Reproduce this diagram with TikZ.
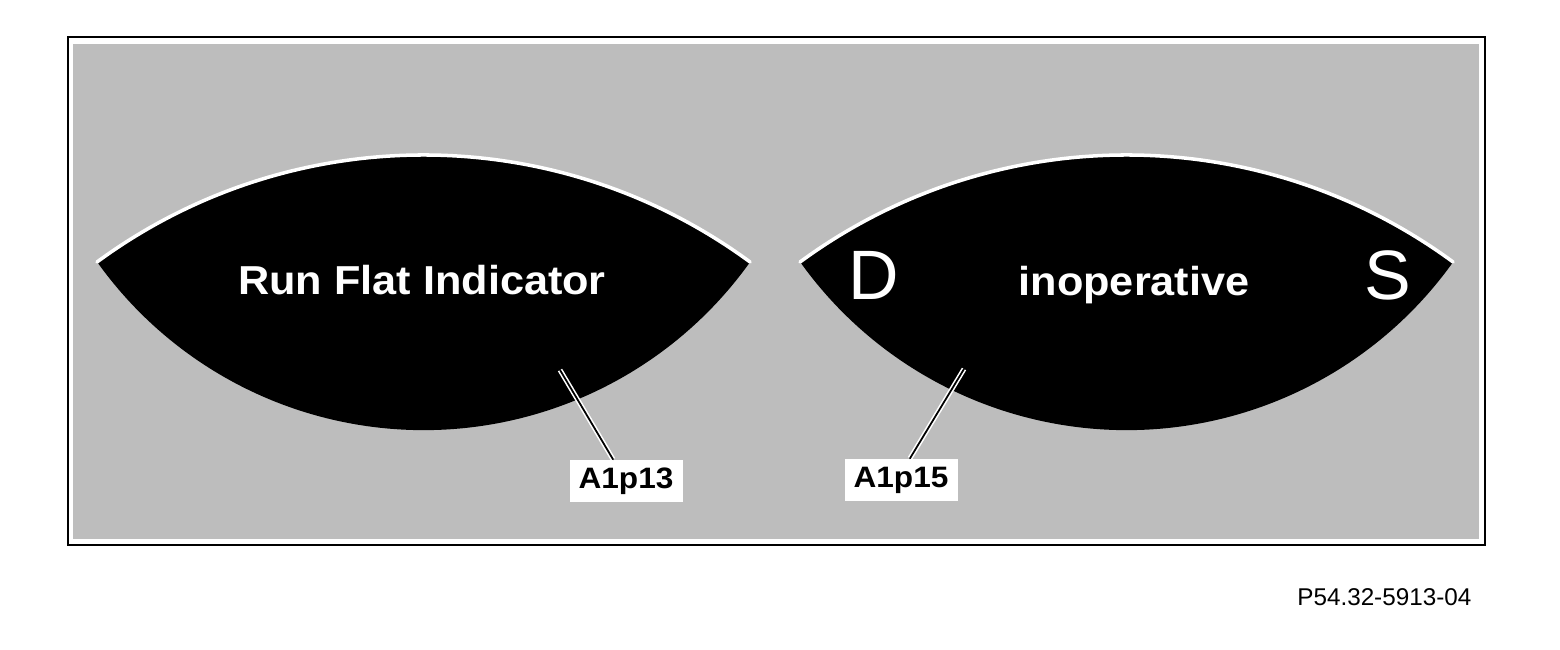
\documentclass[tikz,border=0pt]{standalone}
\usepackage{fontspec}
\setmainfont{Liberation Sans}
\newfontfamily\widesans[FakeStretch=1.07]{Liberation Sans}
\usetikzlibrary{positioning,calc}
\definecolor{panelgray}{RGB}{189,189,189}
\tikzset{lens/.style={fill=black},
  rim/.style={draw=white,line width=1pt,line join=round,line cap=round},
  lens text/.style={text=white,font=\widesans\bfseries\fontsize{11.5}{13}\selectfont,anchor=base,inner sep=0pt},
  dir text/.style={text=white,font=\fontsize{19.9}{22}\selectfont,anchor=base,inner sep=0pt},
  tag node/.style={fill=white,font=\widesans\bfseries\fontsize{8.4}{10}\selectfont,minimum width=1.13cm,minimum height=0.42cm,inner sep=0pt},
  leader/.style={line width=0.5pt,line cap=round,preaction={draw=white,line width=1.4pt}} }

\begin{document}
\begin{tikzpicture}
\useasboundingbox (0,0) rectangle (15.6,6.49);

  % frame and panel
  \draw[line width=0.8pt] (0.68,1.04) rectangle (14.85,6.12);
  \fill[panelgray] (0.73,1.10) rectangle (14.79,6.05);

  % the two lens shaped displays
  \foreach \dx in {0,7.03}{
    \fill[lens] (0.97+\dx,3.87) arc[start angle=126.3,end angle=53.7,radius=5.516]
      arc[start angle=-35.5,end angle=-144.5,radius=4.01] -- cycle;
    \draw[rim] (0.97+\dx,3.87) arc[start angle=126.3,end angle=53.7,radius=5.516];
  }

  \node[lens text] (rfi) at (4.22,3.55) {Run Flat Indicator};
  \node[lens text] (inop) at (11.34,3.54) {inoperative};
  \node[dir text] (D) at (8.74,3.50) {D};
  \node[dir text] (S) at (13.88,3.50) {S};

  \coordinate (p13) at (5.60,2.79);
  \coordinate (p15) at (9.64,2.80);

  \node[tag node] (lbl13) [below right=1.11cm and 0.66cm of p13, anchor=center] {A1p13};
  \node[tag node] (lbl15) [below left=1.11cm and 0.63cm of p15, anchor=center] {A1p15};

  \draw[leader] (p13) -- ($(lbl13.north)+(-0.13,0)$);
  \draw[leader] (p15) -- ($(lbl15.north)+(0.09,0)$);

  \node[anchor=base east,font=\fontsize{6.9}{8}\selectfont,inner sep=0pt] (figid) at (14.72,0.44) {P54.32-5913-04};
\end{tikzpicture}
\end{document}
